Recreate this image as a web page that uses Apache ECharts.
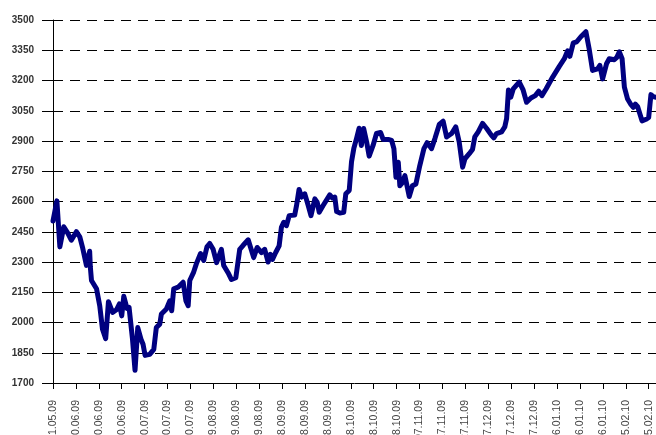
<!DOCTYPE html>
<html>
<head>
<meta charset="utf-8">
<script src="https://cdn.jsdelivr.net/npm/echarts@6/dist/echarts.min.js"></script>
<style>
html,body{margin:0;padding:0;background:#fff;}
#chart{width:656px;height:435px;}
</style>
</head>
<body>
<div id="chart"></div>
<script>
// x positions: days since 31.05.09
var days = [0, 1.7, 3, 4.7, 6.5, 8, 10.2, 11.7, 13, 14.6, 16, 16.3, 16.8, 19, 20.4, 21.6, 23, 24.2, 26, 27.7, 29, 30, 30.9, 32.3, 33.2, 34.7, 35.8, 37, 38.4, 39.3, 40.2, 42.2, 44, 45.1, 46.6, 47.3, 49.5, 51, 51.8, 52.7, 54.6, 56.8, 58, 59, 59.7, 61.4, 62.6, 64.4, 65.8, 67.2, 68.4, 69.9, 71.4, 73.5, 74.5, 76.4, 77.9, 79.8, 81.5, 83, 85.2, 87.6, 89.1, 91, 92.4, 93.9, 94.9, 95.8, 97.2, 98.7, 99.7, 100.7, 101.9, 103.1, 105.5, 106.3, 107.4, 108.5, 109.9, 111.4, 112.6, 114.3, 115.3, 116.2, 117.9, 120.8, 122, 123, 123.8, 125.2, 126.9, 127.8, 129.3, 130.3, 131.3, 132.5, 133.6, 134.6, 135.6, 136.9, 138, 139.7, 141.2, 143, 144.1, 146.3, 147.8, 148.8, 149.7, 150.7, 151.4, 152.6, 153.6, 155.5, 156.9, 158.4, 160.1, 161.9, 163.3, 165.2, 166.7, 168.6, 170.3, 171.8, 174, 175.8, 177.3, 178.8, 179.8, 181.7, 183.1, 184.1, 185.6, 187.5, 189.3, 191.4, 192.4, 193.6, 195.8, 197.2, 198, 198.8, 199.8, 200.9, 203.5, 205.2, 206.7, 208.6, 210.5, 212, 213.4, 215.2, 218.1, 221, 223.2, 224.6, 225.6, 227.1, 228.6, 230.4, 232.6, 234, 235.5, 237.7, 238.7, 239.9, 241.6, 242.8, 245, 246, 247.2, 248.4, 249.4, 250.8, 252.3, 253.3, 254.2, 255.2, 257.1, 258.9, 260, 261, 262, 263.2];
var values = [2503, 2603, 2375, 2475, 2442, 2408, 2450, 2425, 2367, 2283, 2353, 2275, 2208, 2167, 2083, 1967, 1920, 2103, 2050, 2063, 2092, 2033, 2130, 2070, 2075, 1917, 1763, 1975, 1917, 1892, 1837, 1842, 1867, 1975, 1992, 2042, 2067, 2108, 2058, 2167, 2175, 2200, 2108, 2083, 2208, 2250, 2292, 2342, 2308, 2375, 2392, 2363, 2297, 2363, 2283, 2247, 2213, 2222, 2363, 2383, 2410, 2322, 2372, 2347, 2363, 2300, 2338, 2313, 2347, 2380, 2472, 2497, 2480, 2530, 2533, 2580, 2660, 2622, 2638, 2580, 2530, 2613, 2597, 2547, 2580, 2633, 2617, 2622, 2550, 2543, 2547, 2638, 2655, 2797, 2863, 2913, 2963, 2878, 2962, 2895, 2825, 2878, 2937, 2942, 2908, 2908, 2903, 2862, 2720, 2795, 2678, 2695, 2728, 2625, 2678, 2687, 2778, 2862, 2892, 2862, 2912, 2982, 2998, 2920, 2937, 2970, 2895, 2770, 2812, 2837, 2858, 2920, 2945, 2987, 2962, 2928, 2915, 2937, 2945, 2970, 3012, 3153, 3117, 3158, 3192, 3153, 3092, 3113, 3125, 3147, 3125, 3158, 3217, 3270, 3308, 3347, 3320, 3387, 3392, 3417, 3442, 3358, 3250, 3258, 3275, 3208, 3283, 3308, 3303, 3313, 3342, 3308, 3167, 3108, 3080, 3067, 3083, 3070, 3000, 3008, 3017, 3130, 3120, 3117];
var tickLabels = ["31.05.09", "10.06.09", "20.06.09", "30.06.09", "10.07.09", "20.07.09", "30.07.09", "09.08.09", "19.08.09", "29.08.09", "08.09.09", "18.09.09", "28.09.09", "08.10.09", "18.10.09", "28.10.09", "07.11.09", "17.11.09", "27.11.09", "07.12.09", "17.12.09", "27.12.09", "06.01.10", "16.01.10", "26.01.10", "05.02.10", "15.02.10"];

var seriesData = days.map(function (d, i) { return [d, values[i]]; });
var fontFam = '"Liberation Sans", Arial, sans-serif';

var chart = echarts.init(document.getElementById('chart'), null, {renderer: 'canvas'});
chart.setOption({
  animation: false,
  backgroundColor: '#ffffff',
  grid: {left: 53, right: 0, top: 20, bottom: 52, containLabel: false, outerBoundsMode: 'none'},
  xAxis: {
    type: 'value',
    min: 0,
    max: 263.2,
    interval: 10,
    axisLine: {show: true, onZero: false, lineStyle: {color: '#000', width: 1}},
    axisTick: {show: true, length: 6, lineStyle: {color: '#000'}},
    splitLine: {show: false},
    axisLabel: {
      rotate: 90,
      margin: 17,
      fontSize: 10.5,
      color: '#444',
      fontFamily: fontFam,
      showMaxLabel: false,
      hideOverlap: false,
      formatter: function (v) {
        var k = Math.round(v / 10);
        if (Math.abs(v - k * 10) > 1e-6) return '';
        return tickLabels[k] || '';
      }
    }
  },
  yAxis: {
    type: 'value',
    min: 1700,
    max: 3500,
    interval: 150,
    axisLine: {show: true, lineStyle: {color: '#000', width: 1}},
    axisTick: {show: true, length: 11, lineStyle: {color: '#000'}},
    splitLine: {show: true, lineStyle: {color: '#000', width: 1, type: [10, 7]}},
    axisLabel: {
      margin: 19, fontSize: 10, fontWeight: 'bold', color: '#333', fontFamily: fontFam,
      formatter: function (v) { return String(v); }
    }
  },
  series: [{
    type: 'line',
    data: seriesData,
    showSymbol: false,
    symbol: 'none',
    smooth: false,
    clip: true,
    lineStyle: {color: '#000080', width: 5, cap: 'round', join: 'round'}
  }]
});
</script>
</body>
</html>
